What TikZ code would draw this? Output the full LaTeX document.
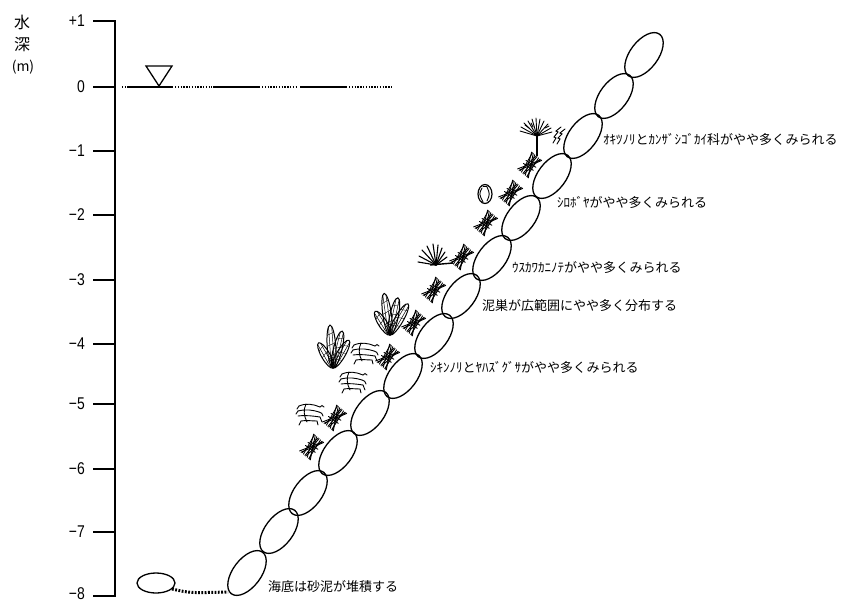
\documentclass[tikz,border=0pt]{standalone}
\usepackage{fontspec}
\setmainfont{Liberation Sans}
\newfontfamily\jp{Noto Sans CJK JP}
\newfontfamily\numf[FakeStretch=0.82]{Liberation Sans}
\newcommand\seaLeaf[4]{%
  \begin{scope}[shift={(#1,#2)}, rotate=-#3]
    \pgfmathsetmacro\lh{#4/2}
    \begin{scope}
      \clip (0,-\lh) ellipse [x radius=4.3pt, y radius=\lh pt];
      \foreach \d in {-1.6,1.6} \draw[line width=0.5pt] (\d,1) -- (\d,-#4-1);
      \foreach \k in {0.3,0.55,0.8} \draw[line width=0.4pt] (-5,-#4*\k+2) -- (5,-#4*\k-2);
    \end{scope}
    \draw[line width=1pt] (0,-\lh) ellipse [x radius=4.3pt, y radius=\lh pt];
  \end{scope}}
\tikzset{
  tuft/.pic={
    \foreach \a/\b in {-7/5,-5/6,-2/-6,1/4,3/-7,6/-3,0/0,-4/-1,5/2,7/-5}
      \draw[plant] (-11,\a) -- (11,\b);
    \draw[plant] (-3,-6) -- (-2,6);
    \draw[plant] (1,-6) -- (2,6);
  },
  spider/.pic={
    \draw[plant] (-10,-7) .. controls (-3,-10) and (4,-9) .. (11,-6);
    \draw[plant] (-11,-2) .. controls (-3,-4) and (4,-3) .. (10,-1);
    \draw[plant] (-11,3) .. controls (-3,2) and (4,3) .. (11,4);
    \draw[plant] (-8,8) .. controls (-3,7) and (3,8) .. (8,8);
    \draw[plant] (-3,-9) .. controls (-6,-3) and (-5,3) .. (-2,9);
    \draw[plant] (11,4) -- (13,9);
    \draw[plant] (8,8) -- (9,12);
    \draw[plant] (-8,8) -- (-10,12);
    \draw[plant] (10,-1) .. controls (13,0) .. (14,3);
    \draw[plant] (11,-6) .. controls (13,-8) .. (15,-6);
    \draw[plant] (-10,-7) -- (-12,-4);
    \draw[plant] (-11,-2) -- (-13,1);
  }
}
\begin{document}
\begin{tikzpicture}[x=1pt,y=-1pt,
  axis/.style={line width=2.5pt},
  rock/.style={line width=1.3pt},
  plant/.style={line width=0.9pt, line cap=round},
  dotline/.style={line width=2.3pt, dash pattern=on 1.4pt off 1.4pt},
  lbl/.style={anchor=west, inner sep=0pt, font=\jp\fontsize{13}{14}\selectfont},
  num/.style={anchor=east, inner sep=0pt, font=\numf\fontsize{17}{18}\selectfont},
  ttl/.style={inner sep=0pt, font=\jp\fontsize{16}{16}\selectfont}]
\useasboundingbox[fill=white] (0,0) rectangle (841,603);

% axis title
\node[ttl] (t1) at (22,22) {水};
\node[ttl] (t2) at (22,45) {深};
\node[ttl, font=\jp\fontsize{14}{14}\selectfont] (t3) at (23,67) {(m)};

% axis
\draw[axis] (93,21) -- (115,21) -- (115,596) -- (93,596);
\foreach \y in {87,151,215,280,344,404,469,532} \draw[axis] (93,\y) -- (115,\y);
\node[num] (n1) at (85,21) {+1};
\node[num] (n0) at (85,87) {0};
\node[num] (m1) at (85,151) {−1};
\node[num] (m2) at (85,215) {−2};
\node[num] (m3) at (85,280) {−3};
\node[num] (m4) at (85,344) {−4};
\node[num] (m5) at (85,404) {−5};
\node[num] (m6) at (85,469) {−6};
\node[num] (m7) at (85,532) {−7};
\node[num] (m8) at (85,594) {−8};

% water surface
\draw[dotline] (122,87) -- (127,87);
\draw[axis] (127,87) -- (173,87);
\draw[dotline] (175,87) -- (212,87);
\draw[axis] (213,87) -- (260,87);
\draw[dotline] (262,87) -- (298,87);
\draw[axis] (300,87) -- (347,87);
\draw[dotline] (349,87) -- (392,87);
\draw[line width=1.3pt, line join=miter] (146,66) -- (172,66) -- (159,86) -- cycle;

% armour stones
\foreach \x/\y in {247/573,279/531,308/493,338/453,370/413,403/376,434/336,461/296,492/258,521/218,552/176,583/136,614/96,644/55}
  \draw[rock, rotate around={53:(\x,\y)}] (\x,\y) ellipse [x radius=26pt, y radius=14pt];

% sea floor
\draw[rock] (156,583) ellipse [x radius=19pt, y radius=10pt];
\draw[line width=3pt, dash pattern=on 1.8pt off 1.5pt] (172,589) .. controls (190,593) .. (228,592);

% tufts
\foreach \x/\y in {530/165,511/193,486/223,462/257,434/290,414/323,388/357,335/418,312/447}
  \pic[rotate=50] at (\x,\y) {tuft};

% tree-like alga
\draw[line width=2.5pt] (537,156) -- (537,135);
\foreach \ex/\ey in {520/131,521/127,524/123,528/121,532/119,536/118,540/119,544/121,548/124,551/128,552/132}
  \draw[plant] (537,136) -- (\ex,\ey);
\draw[plant] (529,128) -- (525,125);
\draw[plant] (545,128) -- (549,126);
\draw[plant] (533,127) -- (531,123);

% serpulid squiggles
\draw[plant] (553,143) -- (556,138) -- (554,137) -- (558,132) -- (556,131) -- (561,127);
\draw[plant] (557,144) -- (560,139) -- (558,138) -- (562,134) -- (560,133) -- (565,129);

% sea squirt
\draw[line width=1.2pt] (485,194) ellipse [x radius=7pt, y radius=9.5pt];
\draw[plant] (482,188) .. controls (479,194) .. (483,202);
\draw[plant] (487,187) .. controls (490,194) .. (487,201);
\draw[plant] (483,186) -- (487,186);

% fan-shaped alga
\foreach \ex/\ey in {418/262,419/256,422/250,427/246,433/244,438/245,442/248,445/252,447/257}
  \draw[line width=1.1pt, line cap=round] (436,265) -- (\ex,\ey);
\draw[line width=1.4pt] (430,265) -- (453,263);

% leaf clusters
\seaLeaf{390}{335}{-32}{28}
\seaLeaf{390}{335}{-8}{42}
\seaLeaf{390}{335}{12}{38}
\seaLeaf{390}{335}{30}{36}
\seaLeaf{333}{368}{-30}{29}
\seaLeaf{333}{368}{-4}{43}
\seaLeaf{333}{368}{14}{38}
\seaLeaf{333}{368}{30}{32}

% mud nests
\foreach \x/\y in {364/352,352/381,309/413}
  \pic at (\x,\y) {spider};

% labels
\node[lbl] (l1) at (603,139) {ｵｷﾂﾉﾘとｶﾝｻﾞｼｺﾞｶｲ科がやや多くみられる};
\node[lbl] (l2) at (557,202) {ｼﾛﾎﾞﾔがやや多くみられる};
\node[lbl] (l3) at (512,268) {ｳｽｶﾜｶﾆﾉﾃがやや多くみられる};
\node[lbl] (l4) at (482,306) {泥巣が広範囲にやや多く分布する};
\node[lbl] (l5) at (430,367) {ｼｷﾝﾉﾘとﾔﾊｽﾞｸﾞｻがやや多くみられる};
\node[lbl] (l6) at (268,587) {海底は砂泥が堆積する};
\end{tikzpicture}
\end{document}
